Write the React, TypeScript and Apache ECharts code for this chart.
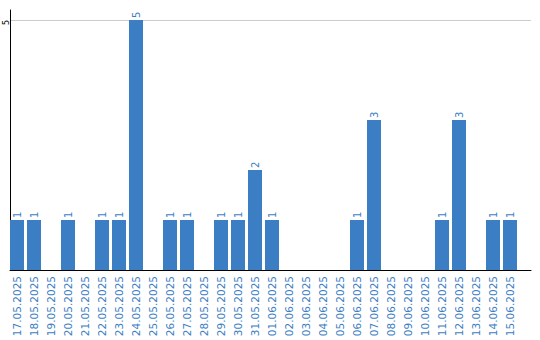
import React, { useEffect, useRef } from "react";
import * as echarts from "echarts";

const categories = [
  "17.05.2025", "18.05.2025", "19.05.2025", "20.05.2025", "21.05.2025",
  "22.05.2025", "23.05.2025", "24.05.2025", "25.05.2025", "26.05.2025",
  "27.05.2025", "28.05.2025", "29.05.2025", "30.05.2025", "31.05.2025",
  "01.06.2025", "02.06.2025", "03.06.2025", "04.06.2025", "05.06.2025",
  "06.06.2025", "07.06.2025", "08.06.2025", "09.06.2025", "10.06.2025",
  "11.06.2025", "12.06.2025", "13.06.2025", "14.06.2025", "15.06.2025",
];
const values = [1, 1, 0, 1, 0, 1, 1, 5, 0, 1, 1, 0, 1, 1, 2, 1, 0, 0, 0, 0, 1, 3, 0, 0, 0, 1, 3, 0, 1, 1];
const yMax = 5.2;
const yTickLabels = [5];

const BLUE = "#3c7ec3";
const FONT = "DejaVu Sans";

export default function App() {
  const ref = useRef<HTMLDivElement>(null);
  useEffect(() => {
    if (!ref.current) return;
    const chart = echarts.init(ref.current, null, { renderer: "svg" });
    chart.setOption({
      animation: false,
      backgroundColor: "#fff",
      grid: [
        { left: 10, right: 9, top: 10, bottom: 70 },
        { left: 8.5, width: 510, top: 10, bottom: 70 },
      ],
      xAxis: [
        {
          gridIndex: 0,
          type: "value",
          min: 0,
          max: 1,
          axisLine: { show: true, lineStyle: { color: "#000", width: 1 } },
          axisTick: { show: false },
          axisLabel: { show: false },
          splitLine: { show: false },
        },
        {
          gridIndex: 1,
          type: "category",
          data: categories,
          axisLine: { show: false },
          axisTick: { show: false },
          axisLabel: {
            interval: 0,
            rotate: 90,
            margin: 6,
            color: BLUE,
            fontFamily: FONT,
            fontSize: 10.5,
          },
        },
      ],
      yAxis: [
        {
          gridIndex: 0,
          type: "value",
          min: 0,
          max: yMax,
          interval: 5,
          axisLine: { show: true, lineStyle: { color: "#000", width: 1 } },
          axisTick: { show: false },
          axisLabel: {
            rotate: 90,
            margin: 4,
            align: "right",
            verticalAlign: "middle",
            color: "#000",
            fontFamily: FONT,
            fontSize: 8,
            showMaxLabel: true,
            formatter: (v: number) => (yTickLabels.includes(v) ? String(v) : ""),
          },
          splitLine: {
            show: true,
            showMinLine: false,
            showMaxLine: false,
            lineStyle: { color: "#cccccc", width: 1 },
          },
        },
        {
          gridIndex: 1,
          type: "value",
          min: 0,
          max: yMax,
          show: false,
          splitLine: { show: false },
        },
      ],
      series: [
        {
          type: "bar",
          xAxisIndex: 1,
          yAxisIndex: 1,
          data: values,
          barWidth: 14,
          itemStyle: { color: BLUE },
          label: {
            show: true,
            position: "top",
            rotate: 90,
            align: "left",
            verticalAlign: "middle",
            distance: 2,
            color: BLUE,
            fontFamily: FONT,
            fontSize: 10,
            formatter: (p: any) => (p.value ? String(p.value) : ""),
          },
        },
      ],
    });
    return () => chart.dispose();
  }, []);
  return (
    <div
      ref={ref}
      style={{ position: "fixed", left: 0, top: 0, width: 540, height: 340, background: "#fff" }}
    />
  );
}
